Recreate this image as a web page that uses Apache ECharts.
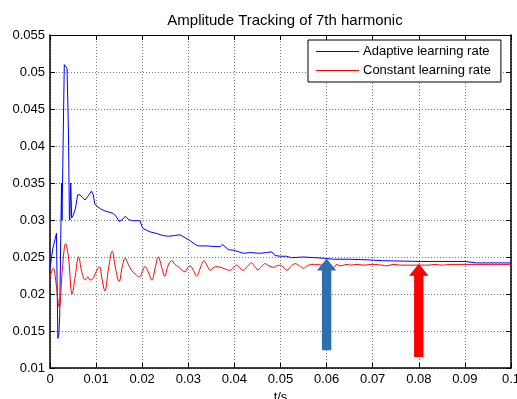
<!DOCTYPE html>
<html>
<head>
<meta charset="utf-8">
<script src="https://cdn.jsdelivr.net/npm/echarts@6/dist/echarts.min.js"></script>
<style>html,body{margin:0;padding:0;background:#fff}#c{width:517px;height:399px}</style>
</head>
<body>
<div id="c"></div>
<script>
const titleText = 'Amplitude Tracking of 7th harmonic';
const seriesNames = ['Adaptive learning rate', 'Constant learning rate'];
const xTicks = [0, 0.01, 0.02, 0.03, 0.04, 0.05, 0.06, 0.07, 0.08, 0.09, 0.1];
const yTicks = [0.01, 0.015, 0.02, 0.025, 0.03, 0.035, 0.04, 0.045, 0.05, 0.055];

const adaptiveData = [
 [0,0.0235],[0.0003,0.0248],[0.0006,0.0261],[0.0010,0.0262],[0.0014,0.0282],[0.0017,0.0140],[0.0019,0.0145],[0.0021,0.0170],
 [0.0025,0.0350],[0.0026,0.0300],[0.0028,0.0300],[0.0031,0.0510],[0.0035,0.0508],[0.0037,0.0505],[0.0040,0.0420],[0.0042,0.0305],
 [0.0043,0.0300],[0.0045,0.0350],[0.0047,0.0303],[0.0050,0.0306],[0.0055,0.0315],[0.0060,0.0334],[0.0065,0.0334],[0.0071,0.0330],
 [0.0076,0.0327],[0.0082,0.0332],[0.0090,0.0339],[0.0094,0.0334],[0.0097,0.0322],[0.0101,0.0319],[0.0110,0.0315],[0.0120,0.0312],
 [0.0137,0.0309],[0.0143,0.0305],[0.0150,0.0298],[0.0156,0.0300],[0.0163,0.0305],[0.0170,0.0301],[0.0178,0.0299],[0.0195,0.0299],
 [0.0201,0.0289],[0.0210,0.0286],[0.0217,0.0284],[0.0230,0.0282],[0.0245,0.0279],[0.0257,0.0278],[0.0270,0.0279],[0.0282,0.0280],
 [0.0293,0.0276],[0.0304,0.0272],[0.0315,0.0267],[0.0322,0.0265],[0.0340,0.0265],[0.0360,0.0264],[0.0369,0.0264],[0.0374,0.0267],
 [0.0387,0.0260],[0.0400,0.0259],[0.0419,0.0255],[0.0435,0.0256],[0.0455,0.0255],[0.0470,0.0256],[0.0481,0.0257],[0.0488,0.0252],
 [0.0500,0.0251],[0.0513,0.0251],[0.0524,0.0249],[0.0549,0.0250],[0.0577,0.0249],[0.0600,0.0248],[0.0615,0.0247],[0.0650,0.0247],
 [0.0694,0.0246],[0.0722,0.0245],[0.0803,0.0244],[0.0900,0.0244],[0.0925,0.0242],[0.1000,0.0242]
];

const constantData = [
 [0,0.0222],[0.0007,0.0235],[0.0013,0.0215],[0.0020,0.0182],[0.0027,0.0235],[0.0034,0.0268],[0.0040,0.0250],[0.0048,0.0200],
 [0.0055,0.0225],[0.0062,0.0250],[0.0069,0.0230],[0.0076,0.0219],[0.0082,0.0223],[0.0087,0.0219],[0.0092,0.0220],[0.0100,0.0230],
 [0.0107,0.0237],[0.0113,0.0220],[0.0119,0.0204],[0.0127,0.0235],[0.0135,0.0258],[0.0142,0.0235],[0.0150,0.0217],[0.0157,0.0238],
 [0.0163,0.0248],[0.0170,0.0240],[0.0177,0.0232],[0.0185,0.0227],[0.0194,0.0223],[0.0200,0.0230],[0.0206,0.0237],[0.0213,0.0230],
 [0.0221,0.0219],[0.0228,0.0235],[0.0235,0.0250],[0.0242,0.0237],[0.0249,0.0224],[0.0256,0.0238],[0.0264,0.0245],[0.0271,0.0240],
 [0.0278,0.0237],[0.0285,0.0233],[0.0293,0.0230],[0.0298,0.0235],[0.0304,0.0238],[0.0311,0.0232],[0.0318,0.0224],[0.0326,0.0235],
 [0.0334,0.0245],[0.0341,0.0238],[0.0348,0.0232],[0.0355,0.0236],[0.0362,0.0237],[0.0375,0.0235],[0.0390,0.0232],[0.0398,0.0236],
 [0.0405,0.0239],[0.0412,0.0235],[0.0419,0.0232],[0.0428,0.0237],[0.0437,0.0242],[0.0444,0.0237],[0.0451,0.0233],[0.0459,0.0237],
 [0.0466,0.0241],[0.0475,0.0238],[0.0485,0.0236],[0.0492,0.0238],[0.0500,0.0239],[0.0508,0.0235],[0.0514,0.0232],[0.0522,0.0237],
 [0.0532,0.0241],[0.0541,0.0238],[0.0550,0.0235],[0.0558,0.0238],[0.0568,0.0240],[0.0580,0.0240],[0.0590,0.0239],[0.0600,0.0239],
 [0.0606,0.0238],[0.0614,0.0235],[0.0622,0.0240],[0.0629,0.0238],[0.0637,0.0239],[0.0644,0.0240],[0.0652,0.0239],[0.0665,0.0240],
 [0.0680,0.0239],[0.0700,0.0240],[0.0720,0.0239],[0.0730,0.0238],[0.0745,0.0240],[0.0760,0.0239],[0.0790,0.0239],[0.0820,0.0239],
 [0.0835,0.0240],[0.0850,0.0239],[0.0870,0.0240],[0.0900,0.0240],[0.0950,0.0240],[0.1000,0.0240]
];

// annotation arrows: x position, tail value, tip value
const arrowX = [0.06, 0.08];
const arrowTail = [0.0124, 0.0115];
const arrowTip = [0.0248, 0.0241];
const arrowColors = ['#2E6FAF', '#FF0000'];

const FONT = '"Liberation Sans", Arial, sans-serif';
const fmt = v => String(+v.toFixed(3));

const chart = echarts.init(document.getElementById('c'), null, {renderer: 'canvas'});
const tickCommon = {show: true, inside: true, length: 5, lineStyle: {color: '#000', width: 1}};
chart.setOption({
  animation: false,
  backgroundColor: '#fff',
  title: {text: titleText, left: 280, top: 8, textAlign: 'center',
    textStyle: {fontFamily: FONT, fontSize: 15, fontWeight: 'normal', color: '#000'}},
  grid: {left: 50, right: 6, top: 35, bottom: 31, show: false, containLabel: false, outerBoundsMode: 'none'},
  legend: {
    orient: 'vertical', left: 308, top: 40, width: 197,
    data: seriesNames, icon: 'rect', itemWidth: 43, itemHeight: 1,
    itemGap: 6, padding: [5, 10, 5, 8],
    borderColor: '#000', borderWidth: 1, backgroundColor: '#fff',
    textStyle: {fontFamily: FONT, fontSize: 13, color: '#000', padding: [0,0,0,-1]}
  },
  xAxis: [{
    type: 'value', min: 0, max: 0.1, interval: 0.01,
    name: 't/s', nameLocation: 'middle', nameGap: 23,
    nameTextStyle: {fontFamily: FONT, fontSize: 13, color: '#000'},
    axisLine: {show: true, onZero: false, lineStyle: {color: '#000', width: 1.5}},
    axisTick: tickCommon,
    axisLabel: {fontFamily: FONT, fontSize: 13, color: '#000', margin: 5, hideOverlap: false,
      formatter: v => xTicks.includes(+v.toFixed(3)) ? fmt(v) : ''},
    splitLine: {show: true, lineStyle: {color: '#7a7a7a', type: [1, 2], width: 1}}
  }, {
    type: 'value', min: 0, max: 0.1, interval: 0.01, position: 'top',
    axisLine: {show: true, onZero: false, lineStyle: {color: '#000', width: 1}},
    axisTick: tickCommon, axisLabel: {show: false}, splitLine: {show: false}
  }],
  yAxis: [{
    type: 'value', min: 0.01, max: 0.055, interval: 0.005,
    axisLine: {show: true, onZero: false, lineStyle: {color: '#000', width: 1.5}},
    axisTick: tickCommon,
    axisLabel: {fontFamily: FONT, fontSize: 13, color: '#000', margin: 5,
      formatter: v => yTicks.some(t => Math.abs(t - v) < 1e-9) ? fmt(v) : ''},
    splitLine: {show: true, lineStyle: {color: '#7a7a7a', type: [1, 2], width: 1}}
  }, {
    type: 'value', min: 0.01, max: 0.055, interval: 0.005, position: 'right',
    axisLine: {show: true, onZero: false, lineStyle: {color: '#000', width: 1.5}},
    axisTick: tickCommon, axisLabel: {show: false}, splitLine: {show: false}
  }],
  series: [{
    name: seriesNames[0], type: 'line', data: adaptiveData, showSymbol: false,
    lineStyle: {color: '#0000FF', width: 1}, itemStyle: {color: '#0000FF'}, z: 3
  }, {
    name: seriesNames[1], type: 'line', data: constantData, showSymbol: false, smooth: 0.4,
    lineStyle: {color: '#FF0000', width: 1}, itemStyle: {color: '#FF0000'}, z: 3
  }, {
    type: 'custom', name: 'arrows', z: 4,
    data: arrowX.map((x, i) => [x, arrowTail[i], arrowTip[i]]),
    renderItem: (params, api) => {
      const i = params.dataIndex;
      const tail = api.coord([api.value(0), api.value(1)]);
      const tip = api.coord([api.value(0), api.value(2)]);
      const sw = 4.7, hw = 9.7, hl = 12;
      const x = tail[0];
      return {
        type: 'polygon',
        shape: {points: [
          [x - sw, tail[1]], [x - sw, tip[1] + hl], [x - hw, tip[1] + hl], [x, tip[1]],
          [x + hw, tip[1] + hl], [x + sw, tip[1] + hl], [x + sw, tail[1]]
        ]},
        style: {fill: arrowColors[i], stroke: null}
      };
    }
  }]
});
</script>
</body>
</html>
